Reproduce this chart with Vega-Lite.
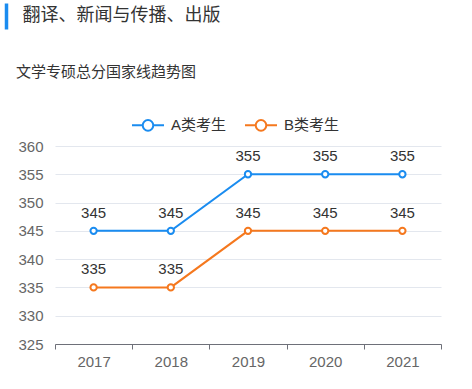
{
  "$schema": "https://vega.github.io/schema/vega-lite/v6.json",
  "padding": {"left": 4, "top": 3, "right": 0, "bottom": 0},
  "background": "white",
  "config": {
    "font": "Liberation Sans, Noto Sans CJK SC",
    "view": {"stroke": null}
  },
  "spacing": 36,
  "columns": 1,
  "align": "none",
  "resolve": {"legend": {"color": "independent"}, "scale": {"y": "independent"}},
  "concat": [
    {
      "width": 1,
      "height": 26,
      "data": {"values": [{"label": "翻译、新闻与传播、出版"}]},
      "mark": {
        "type": "text",
        "align": "left",
        "baseline": "middle",
        "dx": -33,
        "fontSize": 18,
        "color": "#333333",
        "font": "Noto Sans CJK SC"
      },
      "encoding": {
        "text": {"field": "label"},
        "y": {
          "datum": 0,
          "type": "quantitative",
          "scale": {"domain": [-1, 1]},
          "axis": {
            "title": null,
            "domain": true,
            "domainColor": "#1a8cf0",
            "domainWidth": 3.5,
            "domainCap": "butt",
            "ticks": false,
            "labels": false,
            "grid": false,
            "offset": 49
          }
        }
      }
    },
    {
      "width": 386,
      "height": 198,
      "title": {
        "text": "文学专硕总分国家线趋势图",
        "anchor": "start",
        "frame": "group",
        "dx": -39,
        "fontSize": 15,
        "fontWeight": "normal",
        "color": "#333333",
        "offset": 28,
        "font": "Noto Sans CJK SC"
      },
      "data": {
        "values": [
          {"year": "2017", "type": "A类考生", "score": 345},
          {"year": "2018", "type": "A类考生", "score": 345},
          {"year": "2019", "type": "A类考生", "score": 355},
          {"year": "2020", "type": "A类考生", "score": 355},
          {"year": "2021", "type": "A类考生", "score": 355},
          {"year": "2017", "type": "B类考生", "score": 335},
          {"year": "2018", "type": "B类考生", "score": 335},
          {"year": "2019", "type": "B类考生", "score": 345},
          {"year": "2020", "type": "B类考生", "score": 345},
          {"year": "2021", "type": "B类考生", "score": 345}
        ]
      },
      "encoding": {
        "x": {
          "field": "year",
          "type": "ordinal",
          "scale": {"type": "band", "paddingInner": 0, "paddingOuter": 0},
          "axis": {
            "title": null,
            "labelAngle": 0,
            "grid": false,
            "tickBand": "extent",
            "domainColor": "#6e7079",
            "tickColor": "#6e7079",
            "tickSize": 5,
            "labelColor": "#666666",
            "labelFontSize": 15,
            "labelPadding": 5
          }
        },
        "y": {
          "field": "score",
          "type": "quantitative",
          "scale": {"domain": [325, 360], "nice": false, "zero": false},
          "axis": {
            "title": null,
            "values": [325, 330, 335, 340, 345, 350, 355, 360],
            "grid": true,
            "gridColor": "#e3e7ee",
            "domain": false,
            "ticks": false,
            "labelColor": "#666666",
            "labelFontSize": 15,
            "labelPadding": 12,
            "minExtent": 51
          }
        },
        "color": {
          "field": "type",
          "type": "nominal",
          "scale": {"domain": ["A类考生", "B类考生"], "range": ["#1a8cf0", "#f5781e"]},
          "legend": {
            "title": null,
            "orient": "none",
            "direction": "horizontal",
            "legendX": 76,
            "legendY": -38,
            "padding": 0,
            "symbolType": "M-1,0L-0.33,0M0.33,0L1,0M0.33,0A0.33,0.33,0,1,1,-0.33,0A0.33,0.33,0,1,1,0.33,0Z",
            "symbolSize": 1024,
            "symbolStrokeWidth": 2,
            "symbolFillColor": "white",
            "labelFontSize": 15,
            "labelColor": "#333333",
            "labelOffset": 6,
            "columnPadding": 14
          }
        }
      },
      "layer": [
        {"mark": {"type": "line", "strokeWidth": 2}},
        {"mark": {"type": "point", "filled": false, "fill": "white", "strokeWidth": 2, "size": 40, "opacity": 1}},
        {
          "mark": {"type": "text", "dy": -18, "fontSize": 15, "color": "#333333"},
          "encoding": {
            "text": {"field": "score", "type": "quantitative"},
            "color": {"value": "#333333"}
          }
        }
      ]
    }
  ]
}
